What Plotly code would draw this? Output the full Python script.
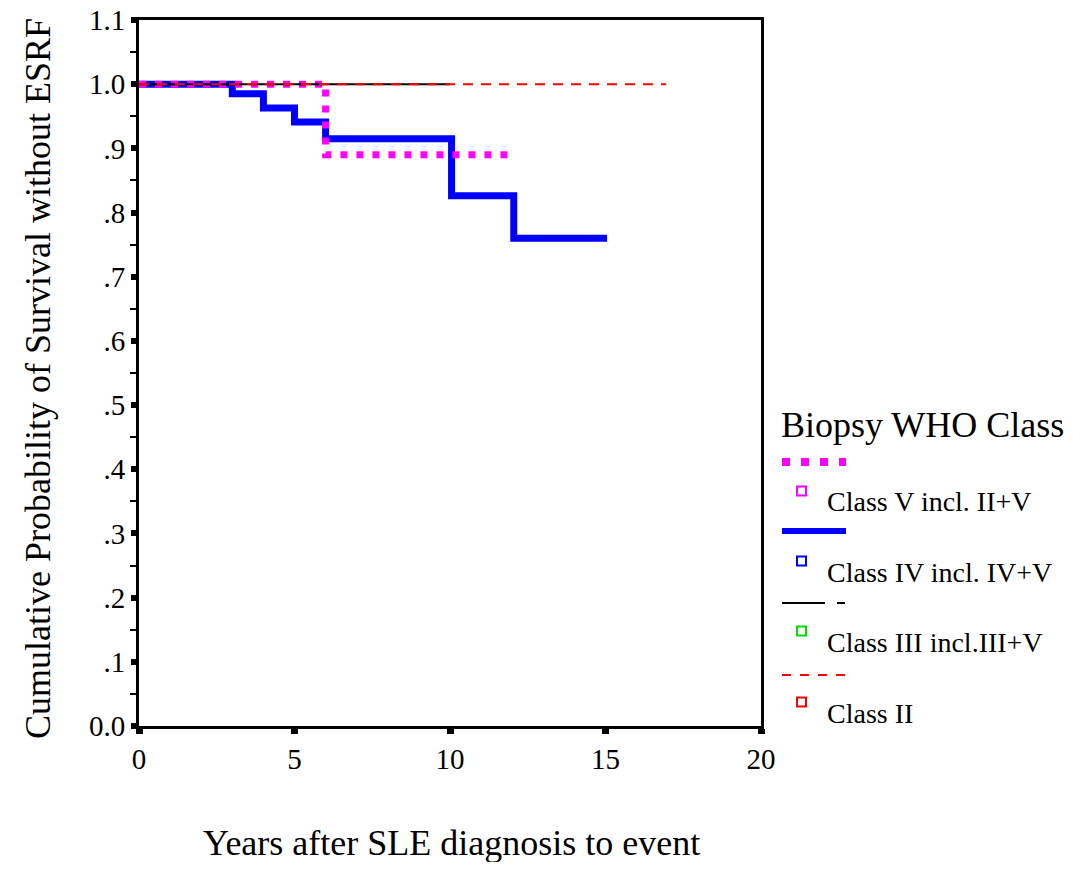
import plotly.graph_objects as go

# Kaplan-Meier step data (years, cumulative survival)
class_iv_t = [0, 3.0, 4.0, 5.0, 6.0, 10.05, 12.05, 15.05]
class_iv_s = [1.0, 0.985, 0.963, 0.941, 0.915, 0.826, 0.76, 0.76]
class_v_t = [0, 6.0, 11.9]
class_v_s = [1.0, 0.89, 0.89]
class_iii_t = [0, 10.0]
class_iii_s = [1.0, 1.0]
class_ii_t = [0, 16.95]
class_ii_s = [1.0, 1.0]

legend_labels = ["Class V incl. II+V", "Class IV incl. IV+V", "Class III incl.III+V", "Class II"]
y_tickvals = [0.0, 0.1, 0.2, 0.3, 0.4, 0.5, 0.6, 0.7, 0.8, 0.9, 1.0, 1.1]
y_ticktext = ["0.0", ".1", ".2", ".3", ".4", ".5", ".6", ".7", ".8", ".9", "1.0", "1.1"]
x_tickvals = [0, 5, 10, 15, 20]

FONT = "Liberation Serif"

# page body has an 8px margin, so the figure is drawn 8px in from the corner
OFF = 8
W, H = 1073 - 2 * OFF, 870 - 2 * OFF
# plot area in screen pixels (for placing the hand-drawn legend)
L, R, T, B = 139, 761, 20, 726
def px_x(x):
    return (x - L) / (R - L)
def px_y(y):
    return (B - y) / (B - T)

fig = go.Figure()
fig.add_trace(go.Scatter(x=class_iv_t, y=class_iv_s, mode="lines", line_shape="hv",
                         line=dict(color="#0000ff", width=7), showlegend=False))
fig.add_trace(go.Scatter(x=class_v_t, y=class_v_s, mode="lines", line_shape="hv",
                         line=dict(color="#ff00ff", width=7, dash="7px,9px"), showlegend=False))
fig.add_trace(go.Scatter(x=class_iii_t, y=class_iii_s, mode="lines", line_shape="hv",
                         line=dict(color="black", width=2), showlegend=False))
fig.add_trace(go.Scatter(x=class_ii_t, y=class_ii_s, mode="lines", line_shape="hv",
                         line=dict(color="#ff0000", width=2, dash="10px,8px"), showlegend=False))

# legend drawn by hand, SPSS style: line sample row then marker + label row
samples = [
    dict(color="#ff00ff", width=8, dash="8px,11px"),
    dict(color="#0000ff", width=6, dash="solid"),
    dict(color="black", width=2, dash="43px,12px,8px,100px"),
    dict(color="#ff0000", width=2, dash="9px,9px"),
]
marker_cols = ["#ff00ff", "#0000ff", "#00dd00", "#ff0000"]
line_rows = [462, 531, 603, 675]
label_rows = [502, 572, 642, 713]
shapes = []
annos = []
for i in range(4):
    shapes.append(dict(type="line", xref="paper", yref="paper",
                       x0=px_x(782), x1=px_x(846), y0=px_y(line_rows[i]), y1=px_y(line_rows[i]),
                       line=samples[i]))
    my = label_rows[i] - 11
    shapes.append(dict(type="rect", xref="paper", yref="paper",
                       x0=px_x(797), x1=px_x(806), y0=px_y(my - 4.5), y1=px_y(my + 4.5),
                       line=dict(color=marker_cols[i], width=2), fillcolor="white"))
    annos.append(dict(text=legend_labels[i], xref="paper", yref="paper",
                      x=px_x(825), y=px_y(label_rows[i]), xanchor="left", yanchor="middle",
                      showarrow=False, font=dict(family=FONT, size=28, color="black")))

annos.append(dict(text="Biopsy WHO Class", xref="paper", yref="paper",
                  x=px_x(779), y=px_y(425), xanchor="left", yanchor="middle",
                  showarrow=False, font=dict(family=FONT, size=36, color="black")))
annos.append(dict(text="Years after SLE diagnosis to event", xref="paper", yref="paper",
                  x=px_x(451), y=px_y(843), xanchor="center", yanchor="middle",
                  showarrow=False, font=dict(family=FONT, size=36, color="black")))
annos.append(dict(text="Cumulative Probability of Survival without ESRF", xref="paper", yref="paper",
                  x=px_x(38), y=px_y(379), xanchor="center", yanchor="middle", textangle=-90,
                  showarrow=False, font=dict(family=FONT, size=36, color="black")))

fig.update_layout(
    width=W, height=H,
    margin=dict(l=L - OFF, r=W - (R - OFF), t=T - OFF, b=H - (B - OFF)),
    plot_bgcolor="white", paper_bgcolor="white",
    font=dict(family=FONT, size=29, color="black"),
    shapes=shapes, annotations=annos,
    xaxis=dict(range=[0, 20], tickvals=x_tickvals, showgrid=False, zeroline=False, automargin=False,
               ticklabeloverflow="allow",
               showline=True, linecolor="black", linewidth=3, mirror=True,
               ticks="outside", ticklen=5, tickwidth=7, tickcolor="black"),
    yaxis=dict(range=[0, 1.1], tickvals=y_tickvals, ticktext=y_ticktext, showgrid=False, automargin=False,
               ticklabeloverflow="allow",
               zeroline=False, showline=True, linecolor="black", linewidth=3, mirror=True,
               ticks="outside", ticklen=5, tickwidth=6, tickcolor="black",
               minor=dict(tickvals=[0.05, 0.15, 0.25, 0.35, 0.45, 0.55, 0.65, 0.75, 0.85, 0.95, 1.05],
                          ticks="outside", ticklen=6, tickwidth=2, tickcolor="black")),
)

fig.write_html("out.html")
